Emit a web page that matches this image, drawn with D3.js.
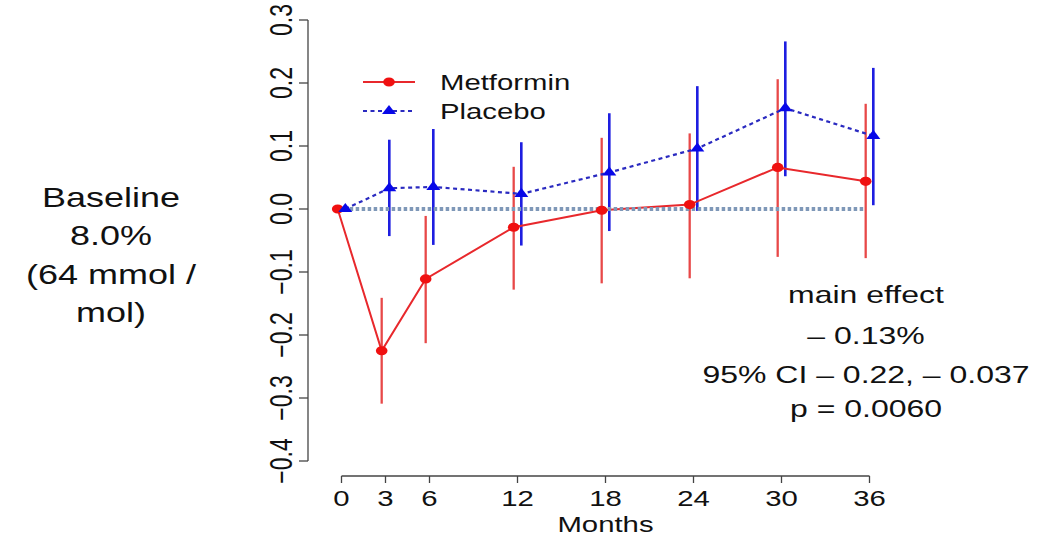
<!DOCTYPE html>
<html lang="en">
<head>
<meta charset="UTF-8">
<title>HbA1c change: Metformin vs Placebo</title>
<script src="https://d3js.org/d3.v7.min.js"></script>
<style>
  body { margin: 0; background: #fff; }
  svg text { font-family: "Liberation Sans", Arial, sans-serif; fill: #111; }
</style>
</head>
<body>
<svg width="1038" height="542"></svg>
<script>
// data
const months = [0, 3, 6, 12, 18, 24, 30, 36];
const metformin = [0, -0.225, -0.111, -0.029, -0.002, 0.007, 0.066, 0.044];
const metLow = [null, -0.309, -0.213, -0.128, -0.118, -0.110, -0.076, -0.078];
const metHigh = [null, -0.141, -0.011, 0.067, 0.113, 0.120, 0.206, 0.167];
const placebo = [0, 0.033, 0.035, 0.024, 0.058, 0.096, 0.160, 0.116];
const plaLow = [null, -0.043, -0.057, -0.058, -0.035, -0.003, 0.052, 0.006];
const plaHigh = [null, 0.110, 0.127, 0.106, 0.152, 0.195, 0.266, 0.224];
const yTicks = [-0.4, -0.3, -0.2, -0.1, 0.0, 0.1, 0.2, 0.3];
const seriesNames = ['Metformin', 'Placebo'];
const baselineText = ['Baseline', '8.0%', '(64 mmol /', 'mol)'];
const effectText = ['main effect', '\u2013 0.13%', '95% CI \u2013 0.22, \u2013 0.037', 'p = 0.0060'];

const sx = 1.333; // the original slide is stretched horizontally
const red = '#e8282c';

const svg = d3.select('svg');
const x = d3.scaleLinear().domain([0, 36]).range([341.5, 869.5]);
const y = d3.scaleLinear().domain([-0.4, 0.3]).range([461, 20]);
const dodge = 0.26;

function label(g, px, py, str, size, anchor, rot) {
  return g.append('text')
    .attr('transform', `translate(${px},${py}) scale(${sx},1)` + (rot ? ' rotate(-90)' : ''))
    .attr('text-anchor', anchor)
    .style('font-size', size + 'px')
    .text(str);
}

// y axis
const ya = svg.append('g');
ya.append('line').attr('x1', 308).attr('x2', 308).attr('y1', y(-0.4)).attr('y2', y(0.3))
  .attr('stroke', '#444').attr('stroke-width', 1.3);
yTicks.forEach(t => {
  ya.append('line').attr('x1', 299).attr('x2', 308).attr('y1', y(t)).attr('y2', y(t))
    .attr('stroke', '#444').attr('stroke-width', 1.3);
  label(ya, 292, y(t), d3.format('.1f')(t), 23, 'middle', true);
});

// x axis
const xa = svg.append('g');
const axisY = 476;
xa.append('line').attr('x1', x(0)).attr('x2', x(36)).attr('y1', axisY).attr('y2', axisY)
  .attr('stroke', '#444').attr('stroke-width', 1.3);
months.forEach(m => {
  xa.append('line').attr('x1', x(m)).attr('x2', x(m)).attr('y1', axisY).attr('y2', axisY + 7)
    .attr('stroke', '#444').attr('stroke-width', 1.3);
  label(xa, x(m), 506, String(m), 22, 'middle');
});
label(xa, x(18), 532, 'Months', 22, 'middle');

const met = months.map((m, i) => ({ m: m - dodge, v: metformin[i], lo: metLow[i], hi: metHigh[i] }));
const pla = months.map((m, i) => ({ m: m + dodge, v: placebo[i], lo: plaLow[i], hi: plaHigh[i] }));

// error bars
svg.append('g').selectAll('line').data(met.filter(d => d.lo !== null)).join('line')
  .attr('x1', d => x(d.m)).attr('x2', d => x(d.m))
  .attr('y1', d => y(d.lo)).attr('y2', d => y(d.hi))
  .attr('stroke', '#e84848').attr('stroke-width', 2.3);
svg.append('g').selectAll('line').data(pla.filter(d => d.lo !== null)).join('line')
  .attr('x1', d => x(d.m)).attr('x2', d => x(d.m))
  .attr('y1', d => y(d.lo)).attr('y2', d => y(d.hi))
  .attr('stroke', '#1e1ee0').attr('stroke-width', 2.6);

// series lines
const line = d3.line().x(d => x(d.m)).y(d => y(d.v));
svg.append('path').datum(met).attr('d', line).attr('fill', 'none')
  .attr('stroke', red).attr('stroke-width', 2);
svg.append('path').datum(pla).attr('d', line).attr('fill', 'none')
  .attr('stroke', '#2a2ac0').attr('stroke-width', 2.2).attr('stroke-dasharray', '4,3.5');

// zero reference line
svg.append('line').attr('x1', x(0 - dodge)).attr('x2', x(36 - dodge))
  .attr('y1', y(0)).attr('y2', y(0))
  .attr('stroke', '#7f98b8').attr('stroke-width', 3.8).attr('stroke-dasharray', '3.5,2.5');

// markers
const tri = d3.symbol(d3.symbolTriangle, 48);
svg.append('g').selectAll('ellipse').data(met).join('ellipse')
  .attr('cx', d => x(d.m)).attr('cy', d => y(d.v)).attr('rx', 5.8).attr('ry', 4.6)
  .attr('fill', '#f01010');
svg.append('g').selectAll('path').data(pla).join('path')
  .attr('d', tri)
  .attr('transform', d => `translate(${x(d.m)},${y(d.v)}) scale(${sx},1)`)
  .attr('fill', '#0808e8');

// legend
const lg = svg.append('g');
const legY = [82, 111];
lg.append('line').attr('x1', 363).attr('x2', 415).attr('y1', legY[0]).attr('y2', legY[0])
  .attr('stroke', red).attr('stroke-width', 2);
lg.append('ellipse').attr('cx', 389).attr('cy', legY[0]).attr('rx', 5.8).attr('ry', 4.6).attr('fill', '#f01010');
lg.append('line').attr('x1', 363).attr('x2', 415).attr('y1', legY[1]).attr('y2', legY[1])
  .attr('stroke', '#2a2ac0').attr('stroke-width', 2.2).attr('stroke-dasharray', '4,3.5');
lg.append('path').attr('d', tri).attr('transform', `translate(389,${legY[1]}) scale(${sx},1)`).attr('fill', '#0808e8');
seriesNames.forEach((n, i) => label(lg, 440, legY[i] + 8, n, 22, 'start'));

// annotations
const ann = svg.append('g');
const baseY = [207, 245, 284, 322];
baselineText.forEach((t, i) => label(ann, 111, baseY[i], t, 27, 'middle'));
const effY = [303, 344, 383, 417];
effectText.forEach((t, i) => label(ann, 866, effY[i], t, 24, 'middle'));
</script>
</body>
</html>
